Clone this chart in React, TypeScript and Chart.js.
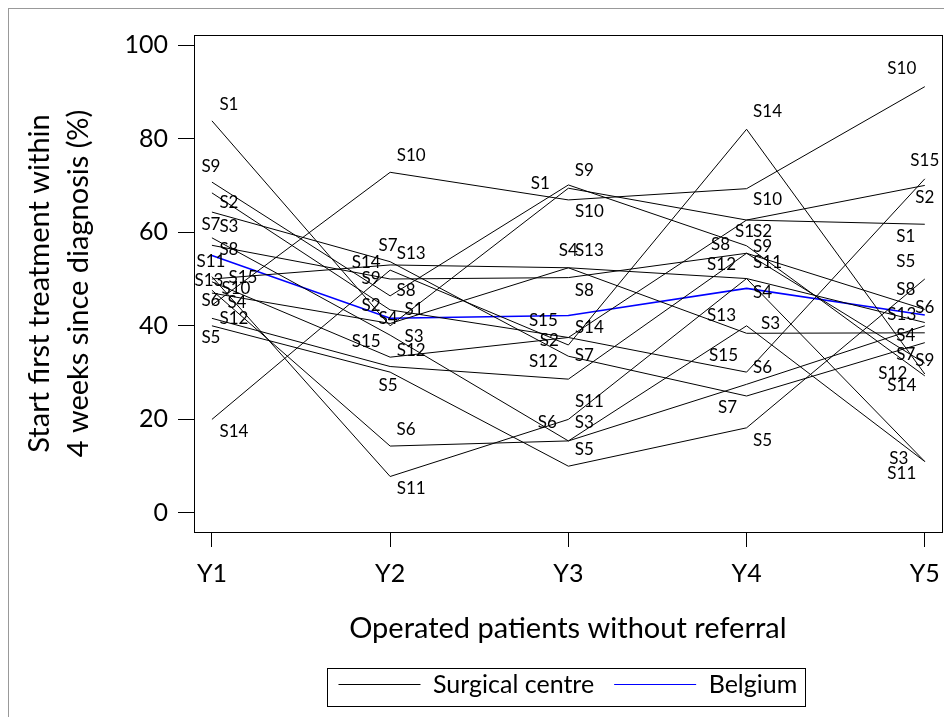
import React, { useEffect, useRef } from 'react';
import { Chart, registerables } from 'chart.js';

Chart.register(...registerables);

const years = ['Y1', 'Y2', 'Y3', 'Y4', 'Y5'];
const yTicks = [0, 20, 40, 60, 80, 100];
const centreNames = ['S1', 'S2', 'S3', 'S4', 'S5', 'S6', 'S7', 'S8', 'S9', 'S10', 'S11', 'S12', 'S13', 'S14', 'S15'];

const s1 = [83.8, 40.0, 69.4, 62.6, 61.7];
const s2 = [68.4, 43.4, 37.5, 62.6, 70.0];
const s3 = [58.8, 38.0, 15.4, 40.0, 11.0];
const s4 = [47.0, 40.5, 52.4, 50.1, 40.7];
const s5 = [40.0, 30.1, 10.0, 18.2, 50.0];
const s6 = [47.6, 14.3, 15.4, 27.5, 40.0];
const s7 = [64.3, 53.7, 33.5, 25.0, 36.4];
const s8 = [57.2, 50.0, 50.3, 55.5, 43.5];
const s9 = [70.7, 46.4, 70.1, 57.1, 29.3];
const s10 = [44.4, 72.8, 66.9, 69.3, 91.1];
const s11 = [50.5, 7.8, 20.0, 50.1, 11.0];
const s12 = [41.6, 31.3, 28.6, 55.5, 32.0];
const s13 = [50.0, 53.0, 52.4, 38.4, 38.5];
const s14 = [20.0, 51.9, 35.9, 82.0, 29.7];
const s15 = [49.4, 33.3, 37.5, 30.1, 71.4];
const belgium = [55.0, 41.6, 42.2, 48.0, 42.3];

const centres = [s1, s2, s3, s4, s5, s6, s7, s8, s9, s10, s11, s12, s13, s14, s15];

// label placement (centre offset in px from each point), one row per centre
const labelOffsets: number[][][] = [
  [[17, -16], [24, -16], [-28, -5], [-2, 11], [-19, 12]],
  [[17, 10], [-19, -4], [-19, 3], [16, 11], [0, 12]],
  [[17, -11], [24, 1], [16, -18], [24, -2], [-26, -3]],
  [[25, 9], [-2, -5], [0, -17], [16, 14], [-19, 13]],
  [[-1, 12], [-2, 13], [16, -17], [16, 13], [-19, -17]],
  [[-1, 10], [16, -17], [-21, -18], [16, -17], [0, -18]],
  [[-1, 12], [-2, -16], [16, -1], [-19, 12], [-19, 12]],
  [[17, 4], [16, 12], [16, 13], [-26, -9], [-19, -20]],
  [[-1, -16], [-19, -17], [16, -14], [16, 1], [0, -15]],
  [[24, -17], [21, -17], [21, 12], [21, 11], [-23, -18]],
  [[-1, -15], [21, 12], [21, -18], [21, -16], [-23, 12]],
  [[22, 0], [21, -16], [-25, -18], [-25, 11], [-32, 10]],
  [[-3, 2], [21, -11], [21, -17], [-25, -18], [-23, -18]],
  [[22, 12], [-24, -8], [21, -17], [21, -18], [-23, 12]],
  [[31, -4], [-24, -16], [-25, -17], [-23, -17], [0, -18]],
];

const FONT = 'Lato';

const toPoints = (vals: number[]) => vals.map((v, i) => ({ x: i + 1, y: v }));

const pointLabels = {
  id: 'pointLabels',
  afterDatasetsDraw(chart: any) {
    const ctx = chart.ctx;
    ctx.save();
    ctx.font = `17px ${FONT}`;
    ctx.fillStyle = '#000';
    ctx.textBaseline = 'middle';
    ctx.textAlign = 'center';
    chart.data.datasets.forEach((ds: any, i: number) => {
      if (i >= centres.length) return;
      const meta = chart.getDatasetMeta(i);
      meta.data.forEach((pt: any, j: number) => {
        const off = labelOffsets[i][j];
        ctx.fillText(ds.label, pt.x + off[0], pt.y + off[1]);
      });
    });
    ctx.restore();
  },
};

const frames = {
  id: 'frames',
  afterDraw(chart: any) {
    const ctx = chart.ctx;
    const a = chart.chartArea;
    ctx.save();
    ctx.strokeStyle = '#000';
    ctx.lineWidth = 1;
    ctx.strokeRect(Math.round(a.left) + 0.5, Math.round(a.top) + 0.5, Math.round(a.right - a.left), Math.round(a.bottom - a.top));
    const lg = chart.legend;
    const hb = lg.legendHitBoxes;
    if (hb && hb.length) {
      const l = hb[0].left - 11;
      const r = hb[hb.length - 1].left + hb[hb.length - 1].width + 8;
      const t = lg.top + 16;
      const b = lg.top + 54;
      ctx.strokeRect(Math.round(l) + 0.5, Math.round(t) + 0.5, Math.round(r - l), Math.round(b - t));
    }
    ctx.restore();
  },
};

export default function App() {
  const ref = useRef<HTMLCanvasElement | null>(null);

  useEffect(() => {
    if (!ref.current) return;
    const datasets: any[] = centres.map((vals, i) => ({
      label: centreNames[i],
      data: toPoints(vals),
      borderColor: '#000',
      borderWidth: 1,
      pointRadius: 0,
      fill: false,
      tension: 0,
    }));
    datasets.push({
      label: 'Belgium',
      data: toPoints(belgium),
      borderColor: '#0000ff',
      borderWidth: 1.6,
      pointRadius: 0,
      fill: false,
      tension: 0,
    });

    const chart = new Chart(ref.current, {
      type: 'line',
      data: { datasets },
      options: {
        responsive: false,
        animation: false,
        layout: { padding: { left: 0, top: 35, right: 7, bottom: 10 } },
        plugins: {
          tooltip: { enabled: false },
          legend: {
            position: 'bottom',
            fullSize: false,
            labels: {
              usePointStyle: true,
              pointStyleWidth: 82,
              padding: 20,
              color: '#000',
              font: { family: FONT, size: 25 },
              generateLabels: () => [
                { text: 'Surgical centre', strokeStyle: '#000', fillStyle: '#000', lineWidth: 1, pointStyle: 'line', hidden: false, datasetIndex: 0, fontColor: '#000' },
                { text: 'Belgium', strokeStyle: '#0000ff', fillStyle: '#0000ff', lineWidth: 1, pointStyle: 'line', hidden: false, datasetIndex: 15, fontColor: '#000' },
              ],
            },
          },
        },
        scales: {
          x: {
            type: 'linear',
            min: 0.8994,
            max: 5.095,
            afterBuildTicks: (s: any) => {
              s.ticks = years.map((_, i) => ({ value: i + 1 }));
            },
            afterFit: (s: any) => {
              s.height = 120;
            },
            grid: { drawOnChartArea: false, drawTicks: true, tickLength: 15, color: '#000', lineWidth: 1 },
            border: { display: true, color: '#000', width: 1 },
            ticks: {
              autoSkip: false,
              maxRotation: 0,
              padding: 12,
              color: '#000',
              font: { family: FONT, size: 25 },
              callback: (v: any) => years[Math.round(v) - 1] ?? '',
            },
            title: {
              display: true,
              text: 'Operated patients without referral',
              color: '#000',
              font: { family: FONT, size: 29 },
              padding: { top: 0, bottom: 6 },
            },
          },
          y: {
            type: 'linear',
            min: -4.06,
            max: 102.14,
            afterBuildTicks: (s: any) => {
              s.ticks = yTicks.map((v) => ({ value: v }));
            },
            afterFit: (s: any) => {
              s.width = 194;
            },
            grid: { drawOnChartArea: false, drawTicks: true, tickLength: 16, color: '#000', lineWidth: 1 },
            border: { display: true, color: '#000', width: 1 },
            ticks: {
              padding: 10,
              color: '#000',
              font: { family: FONT, size: 25 },
              callback: (v: any) => String(v),
            },
            title: {
              display: true,
              text: ['Start first treatment within', '4 weeks since diagnosis (%)'],
              color: '#000',
              font: { family: FONT, size: 29, lineHeight: 1.345 },
              padding: { top: 20.5, bottom: 0 },
            },
          },
        },
      },
      plugins: [pointLabels, frames],
    } as any);
    return () => chart.destroy();
  }, []);

  return (
    <div style={{ position: 'relative', width: 944, height: 709 }}>
      <div
        style={{
          position: 'absolute',
          left: 0,
          top: 0,
          width: 944,
          height: 709,
          boxSizing: 'border-box',
          borderLeft: '1px solid #999',
          borderTop: '1px solid #999',
        }}
      />
      <canvas ref={ref} width={952} height={717} style={{ position: 'absolute', left: -8, top: -8, width: 952, height: 717 }} />
    </div>
  );
}
